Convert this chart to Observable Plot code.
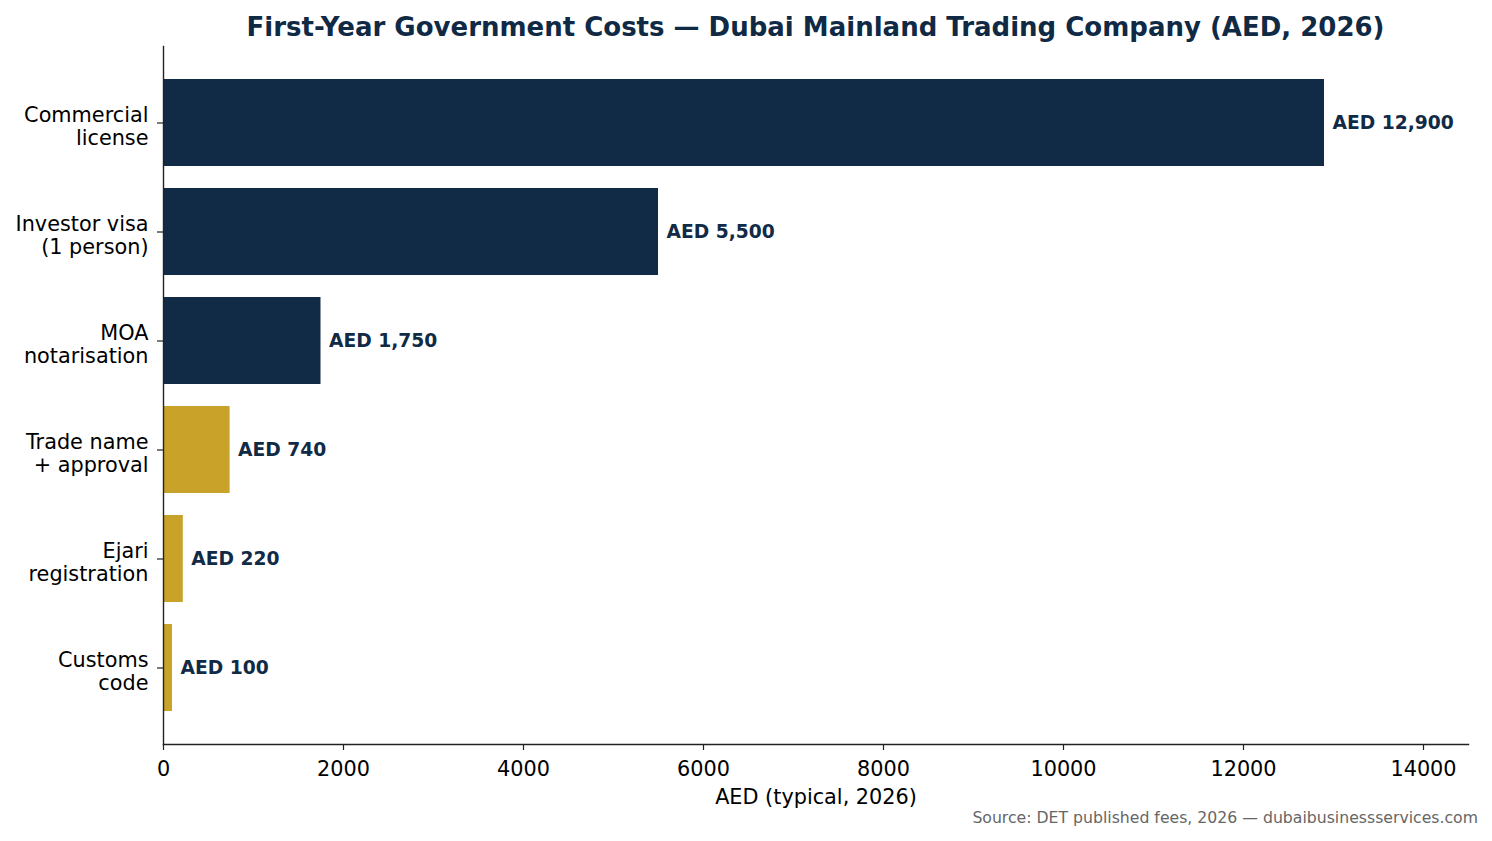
<!DOCTYPE html>
<html>
<head>
<meta charset="utf-8">
<script src="https://cdn.jsdelivr.net/npm/d3@7"></script>
<script src="https://cdn.jsdelivr.net/npm/@observablehq/plot@0.6"></script>
<style>
  html, body { margin: 0; padding: 0; background: #fff; }
  #wrap { position: relative; width: 1492px; height: 841px; font-family: "DejaVu Sans", sans-serif; }
  #title { position: absolute; left: 0; width: 1631px; top: 12px; text-align: center; font-size: 26px; font-weight: bold; color: #102a45; white-space: nowrap; }
  #source { position: absolute; right: 14px; top: 808px; font-size: 15.7px; color: #666; white-space: nowrap; }
  #chart { position: absolute; left: 0; top: 0; }
</style>
</head>
<body>
<div id="wrap">
  <div id="chart"></div>
  <div id="title">First-Year Government Costs — Dubai Mainland Trading Company (AED, 2026)</div>
  <div id="source">Source: DET published fees, 2026 — dubaibusinessservices.com</div>
</div>
<script>
const categories = ["Commercial\nlicense", "Investor visa\n(1 person)", "MOA\nnotarisation", "Trade name\n+ approval", "Ejari\nregistration", "Customs\ncode"];
const values = [12900, 5500, 1750, 740, 220, 100];
const labels = ["AED 12,900", "AED 5,500", "AED 1,750", "AED 740", "AED 220", "AED 100"];
const groups = ["major", "major", "major", "minor", "minor", "minor"];
const xTicks = [0, 2000, 4000, 6000, 8000, 10000, 12000, 14000];

const data = categories.map((c, i) => ({cat: c, value: values[i], label: labels[i], group: groups[i]}));

const navy = "#112b47";
const gold = "#c9a22a";

const chart = Plot.plot({
  width: 1492,
  height: 841,
  marginTop: 46,
  marginBottom: 97,
  marginLeft: 163,
  marginRight: 24,
  style: {fontFamily: "DejaVu Sans, sans-serif", fontSize: "20.8px", color: "#000", background: "#fff"},
  x: {domain: [0, 14500], ticks: xTicks, tickFormat: d => String(d), label: null},
  y: {domain: categories, paddingInner: 0.2, paddingOuter: 0.29, label: null},
  color: {domain: ["major", "minor"], range: [navy, gold]},
  marks: [
    Plot.barX(data, {y: "cat", x: "value", fill: "group"}),
    Plot.text(data, {y: "cat", x: "value", text: "label", dx: 8, textAnchor: "start", fill: navy, fontWeight: "bold", fontSize: 18.7}),
    Plot.axisX({ticks: xTicks, tickFormat: d => String(d), tickSize: 6, tickPadding: 11, stroke: "#222", strokeWidth: 1.2, fill: "#000", fontSize: 20.8, label: null}),
    Plot.axisY({tickSize: 6, text: null, stroke: "#222", strokeWidth: 1.2, label: null}),
    Plot.axisY({tickSize: 0, tickPadding: 15, fill: "#000", fontSize: 20.8, label: null, lineHeight: 1.1, dy: 3}),
    Plot.frame({anchor: "left", stroke: "#222", strokeWidth: 1.4}),
    Plot.frame({anchor: "bottom", stroke: "#222", strokeWidth: 1.4}),
    Plot.text(["AED (typical, 2026)"], {frameAnchor: "bottom", dy: 59, fontSize: 20.8, fill: "#000"})
  ]
});
document.getElementById("chart").appendChild(chart);
</script>
</body>
</html>
